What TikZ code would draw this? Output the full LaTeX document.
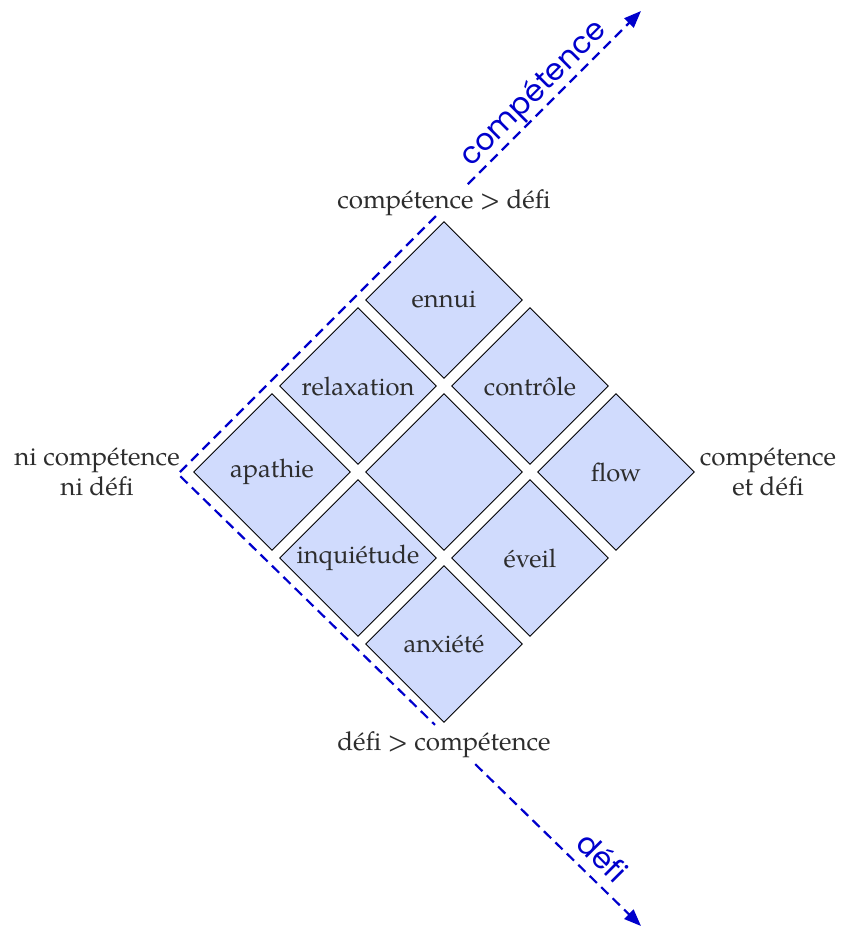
\documentclass[tikz,border=0pt]{standalone}
\usepackage{fontspec}
\setmainfont{TeX Gyre Pagella}
\newfontfamily\axisfont{Poppins}
\usetikzlibrary{shapes.geometric,arrows.meta,calc}
\definecolor{cellfill}{RGB}{208,219,253}
\definecolor{axisblue}{RGB}{0,0,204}
\definecolor{txtgray}{RGB}{45,45,45}
\tikzset{
  cell/.style={shape=diamond,draw=black,line width=0.9pt,fill=cellfill,
    minimum width=157pt,minimum height=157pt,inner sep=0pt},
  celltext/.style={text=txtgray,font=\fontsize{25.5}{30}\selectfont,inner sep=0pt},
  sidetext/.style={text=txtgray,font=\fontsize{26}{30}\selectfont,align=center,inner sep=0pt},
  axisline/.style={draw=axisblue,line width=2.2pt,dash pattern=on 10pt off 6pt},
  axistip/.style={-{Triangle[length=17pt,width=13pt]}},
  axislabel/.style={text=axisblue,font=\axisfont\fontsize{30}{32}\selectfont,inner sep=0pt}
}
\begin{document}
\begin{tikzpicture}[x=1pt,y=-1pt]
\useasboundingbox (0,0) rectangle (842,931);
% cells
\node[cell] (ennui) at (444,300) {};
\node[cell] (relax) at (358,386) {};
\node[cell] (contr) at (530,386) {};
\node[cell] (apath) at (272,472) {};
\node[cell] (mid)   at (444,472) {};
\node[cell] (flow)  at (616,472) {};
\node[cell] (inqu)  at (358,558) {};
\node[cell] (eveil) at (530,558) {};
\node[cell] (anx)   at (444,644) {};
\node[celltext] at (ennui) {ennui};
\node[celltext] at (relax) {relaxation};
\node[celltext] at (contr) {contrôle};
\node[celltext] at (apath) {apathie};
\node[celltext] at (flow)  {flow};
\node[celltext] at (inqu)  {inquiétude};
\node[celltext] at (eveil) {éveil};
\node[celltext] at (anx)   {anxiété};
% side labels
\node[sidetext] (top) at (444,203) {compétence > défi};
\node[sidetext] (bot) at (444,745) {défi > compétence};
\node[sidetext] (left) at (97,472) {ni compétence\\ni défi};
\node[sidetext] (right) at (768,472) {compétence\\et défi};
% axes
\coordinate (O) at (178,474);
\coordinate (T1) at (641,11);
\coordinate (T2) at (641,926);
\coordinate (A1) at ($(O)!0.557!(T1)$);
\coordinate (B1) at ($(O)!0.626!(T1)$);
\coordinate (A2) at ($(O)!0.555!(T2)$);
\coordinate (B2) at ($(O)!0.642!(T2)$);
\draw[axisline] (A1) -- (O) -- (A2);
\draw[axisline,axistip] (B1) -- (T1);
\draw[axisline,axistip] (B2) -- (T2);
\node[axislabel,rotate=45] (lc) at (534,94) {compétence};
\node[axislabel,rotate=-45] (ld) at (603,857) {défi};
\end{tikzpicture}
\end{document}
